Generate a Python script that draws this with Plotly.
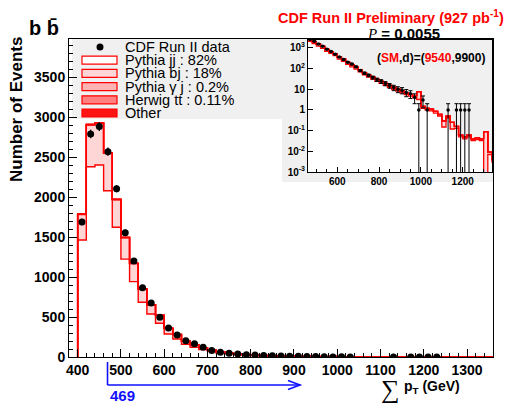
import numpy as np
import plotly.graph_objects as go

W, H = 508, 403


def px(x):
    return x / W


def py(y):
    return 1 - y / H


# ---- histogram binning (20 GeV bins) ----
bin_lo = 400
bin_w = 20
n_bins = 48

# ---- Monte Carlo components, events per bin ----
mc_jj = [1462, 2379, 2400, 2079, 1622, 1223, 942, 684, 538, 421, 287, 225,
         159, 121, 94, 70, 50, 39, 31, 24, 19.5, 15.5, 12.5, 10, 8.2, 6.7,
         5.5, 4.6, 3.9, 3.2, 1.2, 1.0, 0.9, 0.7, 0.5, 0.15, 0.42, 0.12, 0.13,
         0.05, 0.04, 0.05, 0.033, 0.037, 0.033, 0.0, 0.007, 0.003]
mc_bj = [320, 519, 519, 466, 343, 267, 225, 163, 114, 98, 71, 55, 40, 32,
         23, 16, 12, 9, 7, 6, 4.5, 3.5, 3, 2.5, 1.8, 1.5, 1.3, 1.0, 0.9, 4.5,
         0.3, 0.2, 0.2, 0.15, 0.1, 0.15, 0.08, 0.13, 0.03, 0.01, 0.01, 0.01,
         0.007, 0.008, 0.007, 0.09, 0.002, 0.001]
mc_gj = [3, 6, 6, 5, 4, 3, 2, 2, 1, 1, 1, 1]
mc_tt = [2, 3, 3, 3, 2, 2, 1, 1, 1, 1]
mc_other = [1, 2, 2, 2, 1, 1, 1]

# ---- data: bin centre -> observed events ----
data_x = [410, 430, 450, 470, 490, 510, 530, 550, 570, 590, 610, 630, 650,
          670, 690, 710, 730, 750, 770, 790, 810, 830, 850, 870, 890, 910,
          930, 950, 970, 990, 1010, 1030, 1130, 1170, 1190, 1210, 1230]
data_n = [1687, 2788, 2880, 2567, 2104, 1554, 1200, 866, 676, 496, 363, 275,
          204, 166, 121, 80, 60, 47, 37, 29, 24, 19, 15, 12, 10, 9, 7, 6, 4,
          1, 3, 1, 1, 1, 1, 1, 1]

legend_labels = ["CDF Run II data", "Pythia jj : 82%", "Pythia bj : 18%",
                 "Pythia \u03b3 j : 0.2%", "Herwig tt : 0.11%", "Other"]
fill_colors = ["#ffffff", "#ffd6d6", "#ffb3b3", "#ff8080", "#ff1414"]

cut_value = 469
sm_expected, observed = 9540, 9900
p_value = "0.0055"
lumi = "927"

RED = "#ff0000"
BLUE = "#1010ff"
FONT = "Liberation Sans"


def pad(arr):
    out = np.zeros(n_bins)
    out[:len(arr)] = arr
    return out


components = [pad(mc_jj), pad(mc_bj), pad(mc_gj), pad(mc_tt), pad(mc_other)]
stacked = np.cumsum(components, axis=0)

lefts = bin_lo + bin_w * np.arange(n_bins)
x_hi = bin_lo + bin_w * n_bins
step_x = np.concatenate([[bin_lo], lefts, [x_hi, x_hi]])


def step_y(vals, floor=0.0):
    v = np.maximum(vals, floor)
    return np.concatenate([[floor], v, [v[-1], floor]])


fig = go.Figure()

# main panel: stacked histogram
for i, (cum, col) in enumerate(zip(stacked, fill_colors)):
    fig.add_trace(go.Scatter(
        x=step_x, y=step_y(cum), mode="lines", line=dict(color=RED, width=1.4, shape="hv"),
        fill="tozeroy" if i == 0 else "tonexty", fillcolor=col,
        hoverinfo="skip", showlegend=False, xaxis="x", yaxis="y"))

data_n_arr = np.array(data_n, dtype=float)
fig.add_trace(go.Scatter(
    x=data_x, y=data_n, mode="markers",
    marker=dict(color="black", size=7),
    error_y=dict(type="data", array=np.sqrt(data_n_arr), color="black", thickness=1.3, width=0),
    showlegend=False, xaxis="x", yaxis="y"))

# inset panel: same content on a log scale
floor = 1e-6
for i, (cum, col) in enumerate(zip(stacked, fill_colors)):
    fig.add_trace(go.Scatter(
        x=step_x, y=step_y(cum, floor), mode="lines", line=dict(color=RED, width=1.3, shape="hv"),
        fill="tozeroy" if i == 0 else "tonexty", fillcolor=col,
        hoverinfo="skip", showlegend=False, xaxis="x2", yaxis="y2"))

fig.add_trace(go.Scatter(
    x=data_x, y=data_n, mode="markers",
    marker=dict(color="black", size=3.5),
    error_y=dict(type="data", array=np.sqrt(data_n_arr), arrayminus=np.sqrt(data_n_arr),
                 color="black", thickness=1, width=2),
    showlegend=False, xaxis="x2", yaxis="y2"))

# ---- backgrounds of legend and inset pad ----
shapes = [
    dict(type="rect", xref="paper", yref="paper", x0=px(72), x1=px(300), y0=py(119), y1=py(39),
         fillcolor="#f0f0f0", line=dict(width=0), layer="below"),
    dict(type="rect", xref="paper", yref="paper", x0=px(282), x1=px(493), y0=py(182), y1=py(39),
         fillcolor="#f0f0f0", line=dict(width=0), layer="below"),
]

# hand-drawn legend
rows = [47, 60.2, 73.4, 86.6, 99.8, 113]
annotations = []
shapes.append(dict(type="circle", xref="paper", yref="paper",
                   x0=px(96.5), x1=px(103.5), y0=py(rows[0] + 3.5), y1=py(rows[0] - 3.5),
                   fillcolor="black", line=dict(width=0)))
for r, col in zip(rows[1:], fill_colors):
    shapes.append(dict(type="rect", xref="paper", yref="paper",
                       x0=px(82), x1=px(117), y0=py(r + 4), y1=py(r - 4),
                       fillcolor=col, line=dict(color=RED, width=1.2)))
for r, lab in zip(rows, legend_labels):
    annotations.append(dict(xref="paper", yref="paper", x=px(123), y=py(r), text=lab,
                            showarrow=False, xanchor="left", yanchor="middle",
                            font=dict(family=FONT, size=14.5, color="black")))

# cut marker arrow
arrow_end = 915
shapes += [
    dict(type="line", xref="x", yref="paper", x0=cut_value, x1=cut_value, y0=py(362), y1=py(385),
         line=dict(color=BLUE, width=1.6)),
    dict(type="line", xref="x", yref="paper", x0=cut_value, x1=arrow_end, y0=py(385), y1=py(385),
         line=dict(color=BLUE, width=1.6)),
    dict(type="path", xref="paper", yref="paper",
         path=f"M {px(288)} {py(380.5)} L {px(300)} {py(385)} L {px(288)} {py(389.5)}",
         line=dict(color=BLUE, width=1.6)),
]
annotations.append(dict(xref="x", yref="paper", x=cut_value, y=py(395), text=f"<b>{cut_value}</b>",
                        showarrow=False, xanchor="left", yanchor="middle",
                        font=dict(family=FONT, size=15, color=BLUE)))

# titles and labels
annotations += [
    dict(xref="paper", yref="paper", x=px(506), y=py(17),
         text=f"<b>CDF Run II Preliminary ({lumi} pb<sup>-1</sup>)</b>", showarrow=False,
         xanchor="right", yanchor="middle", font=dict(family=FONT, size=14.5, color=RED)),
    dict(xref="paper", yref="paper", x=px(403), y=py(33),
         text=f"<span style='font-family:Liberation Serif'><i>P</i></span><b> = {p_value}</b>",
         showarrow=False, xanchor="center", yanchor="middle",
         font=dict(family=FONT, size=15, color="black")),
    dict(xref="paper", yref="paper", x=px(431), y=py(58),
         text=(f"<b>(<span style='color:{RED}'>SM</span>,d)=(<span style='color:{RED}'>"
               f"{sm_expected}</span>,{observed})</b>"),
         showarrow=False, xanchor="center", yanchor="middle",
         font=dict(family=FONT, size=12, color="black")),
    dict(xref="paper", yref="paper", x=px(44), y=py(28), text="<b>b b\u0304</b>",
         showarrow=False, xanchor="center", yanchor="middle",
         font=dict(family=FONT, size=20, color="black")),
    dict(xref="paper", yref="paper", x=px(16), y=py(110), text="<b>Number of Events</b>",
         textangle=-90, showarrow=False, xanchor="center", yanchor="middle",
         font=dict(family=FONT, size=17, color="black")),
    dict(xref="paper", yref="paper", x=px(390), y=py(389), text="\u2211",
         showarrow=False, xanchor="center", yanchor="middle",
         font=dict(family="Liberation Serif", size=26, color="black")),
    dict(xref="paper", yref="paper", x=px(402), y=py(387),
         text="<b>p<sub>T</sub> (GeV)</b>", showarrow=False, xanchor="left", yanchor="middle",
         font=dict(family=FONT, size=14, color="black")),
]

tick_font = dict(family=FONT, size=14, color="black", weight="bold")
inset_font = dict(family=FONT, size=10, color="black", weight="bold")

log_vals = [1e-3, 1e-2, 1e-1, 1, 10, 100, 1000]
log_text = ["10<sup>-3</sup>", "10<sup>-2</sup>", "10<sup>-1</sup>", "1", "10",
            "10<sup>2</sup>", "10<sup>3</sup>"]

fig.update_layout(
    width=W, height=H, margin=dict(l=0, r=0, t=0, b=0, autoexpand=False),
    paper_bgcolor="white", plot_bgcolor="rgba(0,0,0,0)",
    showlegend=False,
    xaxis=dict(domain=[px(69), px(493)], range=[380, 1360], anchor="y", automargin=False,
               tickvals=list(range(400, 1301, 100)), ticks="inside", ticklen=8,
               tickcolor="black", tickfont=tick_font, showgrid=False, zeroline=False,
               showline=True, linecolor="black", linewidth=1, mirror=True,
               minor=dict(dtick=20, ticks="inside", ticklen=4, tickcolor="black", showgrid=False)),
    yaxis=dict(domain=[py(357), py(39)], range=[0, 3975], anchor="x", automargin=False,
               dtick=500, ticks="inside", ticklen=8, tickcolor="black", tickfont=tick_font,
               showgrid=False, zeroline=False, showline=True, linecolor="black",
               linewidth=1, mirror=True,
               minor=dict(dtick=100, ticks="inside", ticklen=4, tickcolor="black", showgrid=False)),
    xaxis2=dict(domain=[px(308), px(492)], range=[460, 1340], anchor="y2", automargin=False,
                tickvals=[600, 800, 1000, 1200], ticks="inside", ticklen=5, tickcolor="black",
                tickfont=inset_font, showgrid=False, zeroline=False, showline=True,
                linecolor="black", linewidth=1, mirror=True,
                minor=dict(dtick=50, ticks="inside", ticklen=3, tickcolor="black", showgrid=False)),
    yaxis2=dict(domain=[py(172), py(40)], type="log", range=[-3, 3.38], anchor="x2",
                automargin=False,
                tickvals=log_vals, ticktext=log_text, ticks="inside", ticklen=5,
                tickcolor="black", tickfont=inset_font, showgrid=False, zeroline=False,
                showline=True, linecolor="black", linewidth=1, mirror=True),
    shapes=shapes, annotations=annotations,
)

fig.write_html("out.html")
